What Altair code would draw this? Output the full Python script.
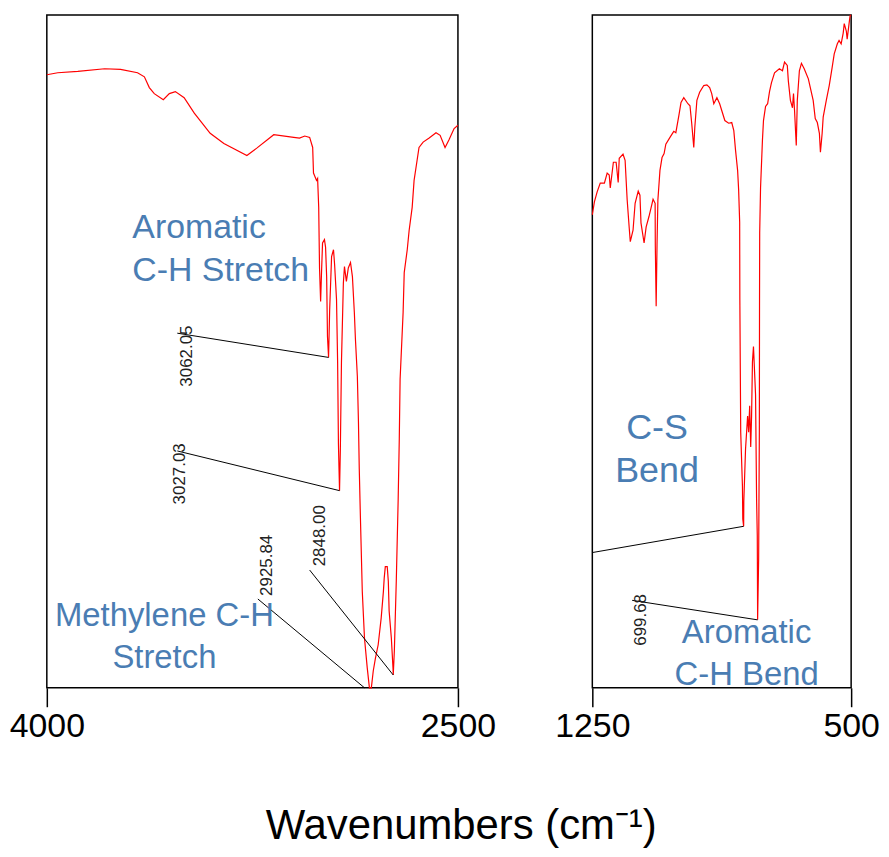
import altair as alt
import pandas as pd

# ---------------- spectrum data ----------------
left_wn = [4000, 3960, 3887, 3789, 3731, 3669, 3644, 3626, 3608, 3575, 3553, 3531, 3499, 3462,
           3404, 3354, 3270, 3234, 3172, 3099, 3078, 3059, 3041, 3030, 3027, 3016, 3012, 3008,
           3005, 3001, 2998, 2994, 2987, 2983, 2979, 2976, 2972, 2968, 2961, 2954, 2950, 2943,
           2939, 2936, 2932, 2929, 2925, 2918, 2914, 2907, 2900, 2892, 2885, 2878, 2874, 2867,
           2863, 2860, 2856, 2849, 2841, 2831, 2823, 2816, 2809, 2801, 2791, 2780, 2772, 2769,
           2765, 2758, 2754, 2751, 2743, 2737, 2736, 2732, 2725, 2718, 2714, 2711, 2700, 2696,
           2685, 2678, 2667, 2660, 2649, 2642, 2627, 2605, 2580, 2565, 2547, 2533, 2514, 2500]
left_t = [91.1, 91.4, 91.6, 92.0, 91.9, 91.4, 90.8, 89.2, 88.3, 87.4, 88.3, 88.6, 87.7, 85.4,
          82.4, 80.9, 79.1, 80.2, 82.2, 81.8, 81.7, 82.0, 81.8, 80.3, 76.5, 75.4, 75.7, 71.4,
          62.4, 57.4, 61.4, 66.1, 66.6, 65.5, 61.1, 52.2, 49.1, 56.2, 64.1, 65.1, 62.9, 57.7,
          48.4, 36.2, 29.3, 35.5, 48.4, 60.2, 62.6, 60.4, 62.4, 63.2, 61.1, 55.8, 51.8, 46.3,
          39.5, 32.5, 25.6, 14.3, 7.4, 3.0, 0.0, 0.0, 2.5, 4.4, 6.4, 10.4, 14.3, 16.3,
          18.0, 18.0, 15.8, 11.4, 7.4, 3.0, 1.9, 5.5, 15.8, 28.1, 37.0, 45.9, 55.8, 61.7,
          65.1, 68.0, 71.4, 75.4, 78.4, 80.3, 81.1, 81.7, 82.5, 82.1, 80.3, 81.4, 83.1, 83.6]

right_wn = [1250, 1244, 1236, 1227, 1215, 1207, 1201, 1198, 1189, 1181, 1175, 1172, 1161, 1155,
            1149, 1143, 1140, 1132, 1126, 1117, 1112, 1109, 1100, 1094, 1086, 1080, 1074, 1068,
            1067.5, 1065, 1062.5, 1060, 1054, 1048, 1042, 1037, 1025, 1014, 1008, 999, 993, 985,
            973, 967, 962, 956, 953, 947, 939, 927, 918, 910, 904, 898, 889, 881, 866, 855, 846,
            840, 835, 829, 826, 823, 822.5, 820, 815, 814, 811.5, 811, 806, 800, 797, 794, 791,
            788.5, 786, 783, 777, 774, 772, 771, 768, 766, 765.5, 765, 762.5, 757, 754, 748, 742,
            736.5, 731, 722, 708, 699, 693, 685, 682, 676, 670, 667, 664, 659, 656, 650, 644, 636,
            624, 618, 610, 604, 598, 592, 589, 584, 581, 572, 563.5, 555, 549, 540, 535, 529, 523,
            520, 514, 511.5, 506, 503, 500]
right_t = [70.3, 72.2, 73.7, 75.0, 75.0, 76.5, 76.2, 74.3, 78.1, 78.1, 75.1, 78.7, 79.3, 78.4,
           72.5, 68.3, 66.3, 68.0, 72.0, 73.8, 73.2, 69.1, 66.1, 68.5, 70.0, 71.3, 72.6, 72.0,
           65.8, 56.7, 65.8, 72.5, 76.9, 78.8, 79.4, 80.8, 81.8, 82.7, 82.5, 85.1, 87.0, 87.7,
           86.8, 86.5, 83.9, 80.3, 83.3, 87.3, 88.5, 89.5, 89.6, 89.2, 88.3, 86.8, 87.7, 86.8,
           84.3, 83.9, 84.0, 82.8, 79.9, 76.9, 74.0, 69.2, 57.7, 38.0, 30.0, 25.1, 24.0, 27.7,
           35.5, 40.4, 38.0, 41.9, 35.8, 40.4, 48.4, 50.7, 43.6, 28.1, 22.6, 10.1, 19.2, 38.0,
           56.7, 67.6, 74.3, 81.4, 84.3, 86.4, 86.8, 88.6, 89.9, 91.4, 92.0, 91.7, 93.0, 92.5,
           90.2, 87.3, 86.2, 88.3, 85.8, 80.6, 87.3, 91.7, 92.8, 92.0, 90.5, 89.1, 87.3, 84.6,
           84.0, 82.4, 79.6, 82.4, 84.8, 87.3, 89.5, 92.2, 94.2, 95.7, 96.2, 95.7, 97.3, 98.7,
           97.6, 96.4, 98.7, 99.9, 100.0]

# ---------------- peak annotations ----------------
left_peak_labels = ["3062.05", "3027.03", "2925.84", "2848.00"]
left_peak_wn = [2972, 2932, 2841, 2736]
left_peak_t = [49.1, 29.3, 0.0, 1.9]
left_lead_wn = [3524, 3524, 3230, 3041]
left_lead_t = [52.7, 35.2, 13.2, 17.5]
left_label_wn = [3488, 3513, 3197, 3005]
left_label_t = [49.3, 31.8, 18.2, 22.6]

right_peak_labels = ["699.68"]
right_peak_wn = [771.2]
right_peak_t = [10.1]
right_lead_wn = [1134.6]
right_lead_t = [13.0]
right_label_wn = [1108.7]
right_label_t = [10.1]

# C-S bend leader (no number label)
cs_lead_wn = [1250]
cs_lead_t = [20.1]
cs_peak_wn = [811.5]
cs_peak_t = [24.0]

# band names
left_band_text = ["Aromatic", "C-H Stretch"]
left_band_wn = [3688, 3688]
left_band_t = [66.9, 60.5]
left_band2_text = ["Methylene C-H", "Stretch"]
left_band2_wn = [3571, 3571]
left_band2_t = [9.2, 3.0]
left_band2_size = [33, 33]
right_band_text = ["C-S", "Bend", "Aromatic", "C-H Bend"]
right_band_wn = [1062.5, 1062.5, 803, 803]
right_band_t = [37.0, 30.6, 6.7, 0.4]
right_band_size = [36, 36, 33, 33]

BLUE = "#4a7db3"
SANS = "Liberation Sans, Helvetica, Arial, sans-serif"


def panel(wn, t, lo, hi, ticks, width, peaks, bands_left, bands_center, extra_rules=None):
    xdef = dict(scale=alt.Scale(domain=[lo, hi], reverse=True, nice=False, zero=False),
                axis=alt.Axis(values=ticks, format="d", title=None, grid=False, domain=False,
                              tickSize=19, tickColor="black", tickWidth=1.5,
                              labelFontSize=34, labelFont=SANS, labelColor="black",
                              labelPadding=3, labelFlush=False, labelOverlap=False,
                              labelBound=False))
    ydef = dict(scale=alt.Scale(domain=[0, 100], nice=False, zero=False), axis=None)

    spec = pd.DataFrame({"wn": wn, "t": t, "idx": list(range(len(wn)))})
    line = alt.Chart(spec).mark_line(color="#ff0000", strokeWidth=1.2).encode(
        x=alt.X("wn:Q", **xdef), y=alt.Y("t:Q", **ydef), order="idx:Q")

    layers = [line]

    lab, pwn, pt, lwn, lt, twn, tt = peaks
    rules = pd.DataFrame({"wn": lwn, "t": lt, "wn2": pwn, "t2": pt})
    if extra_rules is not None:
        rules = pd.concat([rules, extra_rules], ignore_index=True)
    layers.append(alt.Chart(rules).mark_rule(color="black", strokeWidth=1).encode(
        x=alt.X("wn:Q", **xdef), y=alt.Y("t:Q", **ydef), x2="wn2:Q", y2="t2:Q"))

    nums = pd.DataFrame({"wn": twn, "t": tt, "label": lab})
    layers.append(alt.Chart(nums).mark_text(angle=270, align="center", baseline="middle",
                                            fontSize=17, font=SANS, color="#222222").encode(
        x=alt.X("wn:Q", **xdef), y=alt.Y("t:Q", **ydef), text="label:N"))

    if bands_left is not None:
        bl = pd.DataFrame(bands_left)
        layers.append(alt.Chart(bl).mark_text(align="left", baseline="alphabetic",
                                              fontSize=34, font=SANS, color=BLUE).encode(
            x=alt.X("wn:Q", **xdef), y=alt.Y("t:Q", **ydef), text="label:N"))
    bc = pd.DataFrame(bands_center)
    layers.append(alt.Chart(bc).mark_text(align="center", baseline="alphabetic",
                                          font=SANS, color=BLUE).encode(
        x=alt.X("wn:Q", **xdef), y=alt.Y("t:Q", **ydef), text="label:N",
        size=alt.Size("size:Q", scale=None, legend=None)))

    return alt.layer(*layers).properties(width=width, height=676)


left = panel(left_wn, left_t, 2500, 4000, [4000, 2500], 413,
             (left_peak_labels, left_peak_wn, left_peak_t, left_lead_wn, left_lead_t,
              left_label_wn, left_label_t),
             {"label": left_band_text, "wn": left_band_wn, "t": left_band_t},
             {"label": left_band2_text, "wn": left_band2_wn, "t": left_band2_t,
              "size": left_band2_size})

cs_rules = pd.DataFrame({"wn": cs_lead_wn, "t": cs_lead_t, "wn2": cs_peak_wn, "t2": cs_peak_t})
right = panel(right_wn, right_t, 500, 1250, [1250, 500], 260,
              (right_peak_labels, right_peak_wn, right_peak_t, right_lead_wn, right_lead_t,
               right_label_wn, right_label_t),
              None,
              {"label": right_band_text, "wn": right_band_wn, "t": right_band_t,
               "size": right_band_size},
              extra_rules=cs_rules)

chart = alt.hconcat(left, right, spacing=57).properties(
    title=alt.TitleParams("Wavenumbers (cm\u207b\u00b9)", orient="bottom", anchor="middle",
                          fontSize=42, font=SANS, fontWeight="normal", color="black",
                          offset=62, dx=17),
    padding={"left": 0, "top": 1, "right": 0, "bottom": 0},
    background="white",
).configure_view(stroke="black", strokeWidth=1.5)

chart.save("out.html", embed_options={"renderer": "svg", "actions": False})
